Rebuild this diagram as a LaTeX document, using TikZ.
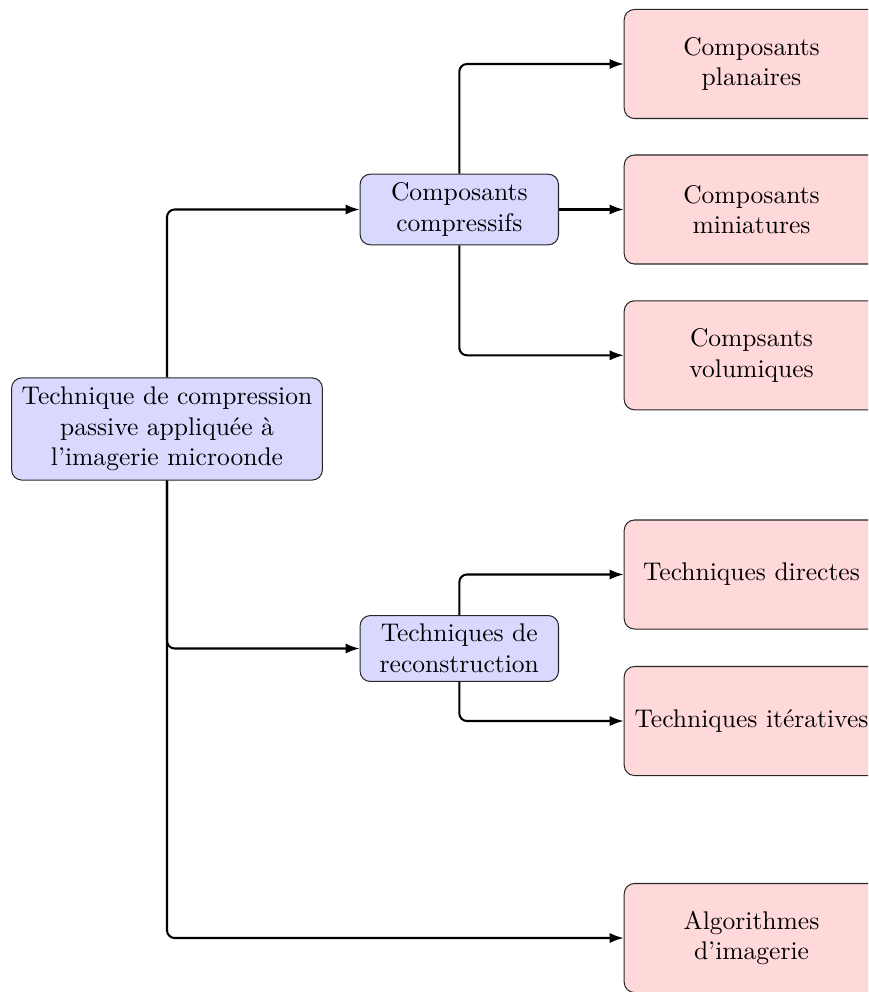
\documentclass[tikz,border=0pt]{standalone}
\usetikzlibrary{arrows.meta}
\begin{document}
\begin{tikzpicture}[x=0.3915pt,y=-0.3915pt,
  bluebox/.style={draw=black!85, fill=blue!15, rounded corners=4pt, align=center, inner sep=3.33pt},
  pinkbox/.style={draw=black!85, fill=red!15, rounded corners=4pt, align=center, text width=93pt, minimum width=3.5cm, minimum height=1.5cm, inner sep=3.33pt},
  conn/.style={thick, rounded corners=3pt, -{Latex[length=5.5pt,width=4pt]}}]
\clip (0,0) rectangle (868,992);
\node[bluebox, text width=115pt, minimum height=40pt] (root) at (167,429)
  {Technique de compression\\ passive appliquée à\\ l'imagerie microonde};
\node[bluebox, text width=71pt, minimum height=25.8pt] (cc) at (459.3,209.5) {Composants\\ compressifs};
\node[bluebox, text width=71pt, minimum height=25.8pt] (tr) at (459.3,648.5) {Techniques de\\ reconstruction};
\node[pinkbox] (p1) at (751.5,64) {Composants\\ planaires};
\node[pinkbox] (p2) at (751.5,209.5) {Composants\\ miniatures};
\node[pinkbox] (p3) at (751.5,355.3) {Compsants\\ volumiques};
\node[pinkbox] (t1) at (751.5,574.5) {Techniques directes};
\node[pinkbox] (t2) at (751.5,721) {Techniques itératives};
\node[pinkbox] (a) at (751.5,938) {Algorithmes\\ d'imagerie};
\draw[conn] (root.north) |- (cc.west);
\draw[conn] (root.south) |- (tr.west);
\draw[conn] (root.south) |- (a.west);
\draw[conn] (cc.north) |- (p1.west);
\draw[conn] (cc.east) -- (p2.west);
\draw[conn] (cc.south) |- (p3.west);
\draw[conn] (tr.north) |- (t1.west);
\draw[conn] (tr.south) |- (t2.west);
\end{tikzpicture}
\end{document}
